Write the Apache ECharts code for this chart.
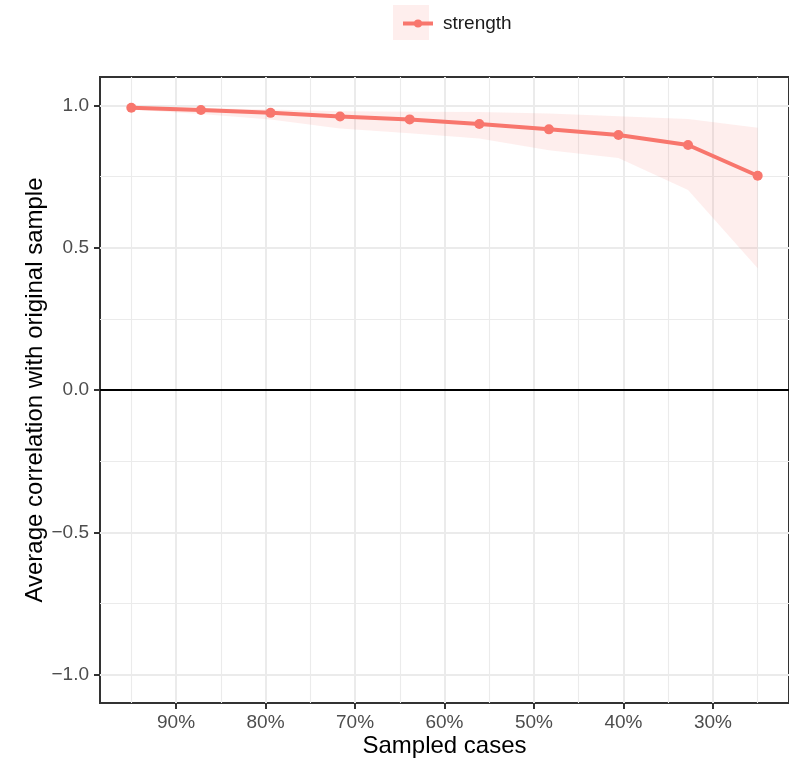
<!DOCTYPE html>
<html>
<head>
<meta charset="utf-8">
<script src="https://cdn.jsdelivr.net/npm/echarts@6/dist/echarts.min.js"></script>
<style>html,body{margin:0;padding:0;background:#fff}#c{width:789px;height:763px}</style>
</head>
<body>
<div id="c"></div>
<script>
// ---- data ----
const seriesName = 'strength';
const sampledPct = [95, 87.22, 79.44, 71.67, 63.89, 56.11, 48.33, 40.56, 32.78, 25];
const meanCor   = [0.992, 0.984, 0.974, 0.961, 0.951, 0.935, 0.916, 0.896, 0.861, 0.753];
const upperCor  = [0.996, 0.991, 0.986, 0.980, 0.978, 0.977, 0.972, 0.962, 0.952, 0.922];
const lowerCor  = [0.986, 0.970, 0.951, 0.919, 0.902, 0.884, 0.843, 0.815, 0.703, 0.428];
const xTicks = [90, 80, 70, 60, 50, 40, 30];
const xMinorGrid = [95, 85, 75, 65, 55, 45, 35, 25];
const yTicks = [-1, -0.5, 0, 0.5, 1];
const yMinorGrid = [-0.75, -0.25, 0.25, 0.75];

const FONT = '"Liberation Sans", Arial, Helvetica, sans-serif';
const RED = '#F8766D';
const chart = echarts.init(document.getElementById('c'), null, {renderer: 'canvas'});

const majorStyle = {color: '#EBEBEB', width: 2, type: 'solid'};
const minorStyle = {color: '#EBEBEB', width: 1.1, type: 'solid'};
const gridLines = []
  .concat(xMinorGrid.map(v => ({xAxis: v, lineStyle: minorStyle})))
  .concat(yMinorGrid.map(v => ({yAxis: v, lineStyle: minorStyle})))
  .concat(xTicks.map(v => ({xAxis: v, lineStyle: majorStyle})))
  .concat(yTicks.filter(v => v !== 0).map(v => ({yAxis: v, lineStyle: majorStyle})));

const lineData = sampledPct.map((p, i) => [p, meanCor[i]]);

chart.setOption({
  animation: false,
  backgroundColor: '#fff',
  textStyle: {fontFamily: FONT},
  graphic: [{
    type: 'rect', left: 393, top: 5, z: 0,
    shape: {width: 36, height: 35},
    style: {fill: 'rgba(248,118,109,0.12)'}
  }],
  legend: {
    data: [seriesName],
    left: 396, top: 9,
    itemWidth: 30, itemHeight: 10,
    lineStyle: {width: 4, color: RED},
    itemStyle: {color: RED},
    textStyle: {fontSize: 19, color: '#1a1a1a', fontFamily: FONT, padding: [0, 0, 0, 5]},
    selectedMode: false
  },
  grid: {
    left: 100, right: -5, top: 77, bottom: 60,
    show: true, backgroundColor: '#fff', borderColor: '#333', borderWidth: 2,
    containLabel: false
  },
  xAxis: {
    type: 'value', min: 21.5, max: 98.5, inverse: true,
    name: 'Sampled cases', nameLocation: 'middle', nameGap: 31, nameMoveOverlap: false,
    nameTextStyle: {fontSize: 24, color: '#000', fontFamily: FONT},
    axisLine: {show: false, onZero: false},
    splitLine: {show: false},
    axisTick: {show: true, customValues: xTicks, length: 6, lineStyle: {color: '#333', width: 2}},
    axisLabel: {customValues: xTicks, formatter: v => v + '%', fontSize: 19, color: '#4D4D4D', margin: 10, fontFamily: FONT}
  },
  yAxis: {
    type: 'value', min: -1.1, max: 1.1,
    name: 'Average correlation with original sample', nameLocation: 'middle', nameGap: 53, nameMoveOverlap: false,
    nameTextStyle: {fontSize: 24, color: '#000', fontFamily: FONT},
    axisLine: {show: false, onZero: false},
    splitLine: {show: false},
    axisTick: {show: true, customValues: yTicks, length: 6, lineStyle: {color: '#333', width: 2}},
    axisLabel: {customValues: yTicks, formatter: v => v.toFixed(1).replace('-', '\u2212'), fontSize: 19, color: '#4D4D4D', margin: 11, fontFamily: FONT}
  },
  series: [
    {
      name: '_grid', type: 'line', z: 0, silent: true,
      data: lineData, symbol: 'none', lineStyle: {opacity: 0},
      markLine: {silent: true, symbol: 'none', z: 0, animation: false, label: {show: false}, data: gridLines}
    },
    {
      name: '_ribbon', type: 'custom', z: 2, silent: true,
      data: [[sampledPct[0], upperCor[0]]],
      renderItem: function (params, api) {
        if (params.dataIndex !== 0) return;
        const pts = [];
        for (let i = 0; i < sampledPct.length; i++) pts.push(api.coord([sampledPct[i], upperCor[i]]));
        for (let i = sampledPct.length - 1; i >= 0; i--) pts.push(api.coord([sampledPct[i], lowerCor[i]]));
        return {type: 'polygon', shape: {points: pts}, style: {fill: 'rgba(248,118,109,0.12)'}};
      }
    },
    {
      name: '_zero', type: 'line', z: 3, silent: true,
      data: lineData, symbol: 'none', lineStyle: {opacity: 0},
      markLine: {silent: true, symbol: 'none', z: 3, animation: false, label: {show: false},
        data: [{yAxis: 0, lineStyle: {color: '#000', width: 2, type: 'solid'}}]}
    },
    {
      name: seriesName, type: 'line', z: 4,
      data: lineData,
      symbol: 'circle', symbolSize: 10, showSymbol: true,
      lineStyle: {color: RED, width: 4},
      itemStyle: {color: RED}
    }
  ]
});
</script>
</body>
</html>
